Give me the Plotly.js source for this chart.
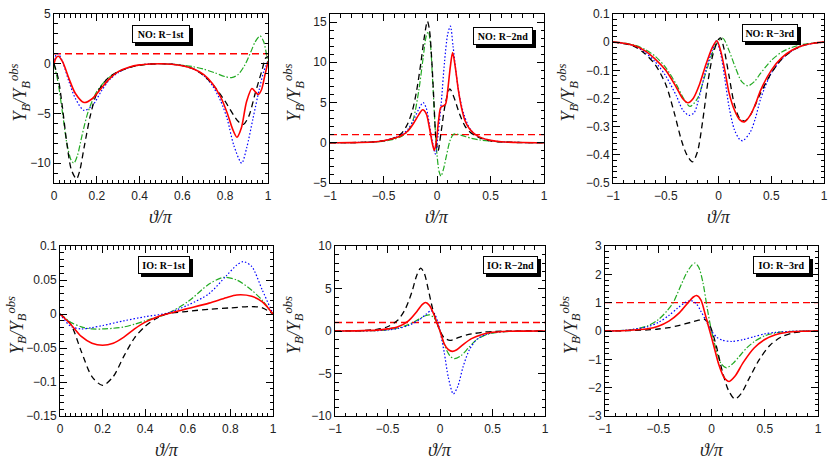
<!DOCTYPE html>
<html>
<head>
<meta charset="utf-8">
<script src="https://cdn.plot.ly/plotly-3.0.1.min.js"></script>
<style>html,body{margin:0;padding:0;background:#fff}#chart{width:830px;height:462px}</style>
</head>
<body>
<div id="chart"></div>
<script>
// ---------- Panel 1: NO R-1st ----------
const p1RedX = [0, 0.01, 0.02, 0.04, 0.07, 0.1, 0.14, 0.18, 0.22, 0.26, 0.3, 0.35, 0.4, 0.45, 0.5, 0.55, 0.6, 0.65, 0.7, 0.74, 0.78, 0.81, 0.835, 0.855, 0.875, 0.9, 0.925, 0.94, 0.955, 0.97, 0.985, 1];
const p1RedY = [0, 0.6, 0.75, 0.2, -1.5, -3.0, -3.9, -3.5, -2.5, -1.5, -0.8, -0.35, -0.12, -0.03, 0, -0.05, -0.2, -0.5, -1.1, -2.0, -3.4, -5.0, -6.6, -7.4, -6.5, -3.8, -2.5, -2.8, -3.1, -2.6, -1.2, 0.2];
const p1BlueX = [0, 0.01, 0.02, 0.04, 0.07, 0.1, 0.14, 0.18, 0.22, 0.26, 0.3, 0.35, 0.4, 0.45, 0.5, 0.55, 0.6, 0.65, 0.7, 0.74, 0.78, 0.81, 0.84, 0.877, 0.9, 0.93, 0.96, 0.98, 1];
const p1BlueY = [0, 0.9, 1.0, 0.2, -1.8, -3.5, -4.7, -4.2, -2.8, -1.6, -0.9, -0.4, -0.13, -0.03, 0, -0.05, -0.2, -0.5, -1.2, -2.2, -3.8, -5.6, -8.2, -10.0, -8.5, -5.5, -2.5, -0.8, 0.3];
const p1GreenX = [0, 0.02, 0.04, 0.06, 0.08, 0.093, 0.11, 0.13, 0.16, 0.2, 0.25, 0.3, 0.35, 0.4, 0.45, 0.5, 0.55, 0.6, 0.65, 0.7, 0.75, 0.8, 0.83, 0.86, 0.89, 0.92, 0.94, 0.963, 0.98, 1];
const p1GreenY = [0, -2.0, -5.0, -8.0, -9.7, -10.0, -9.2, -7.3, -4.8, -2.8, -1.5, -0.8, -0.4, -0.15, -0.03, 0, -0.05, -0.15, -0.3, -0.55, -0.9, -1.3, -1.4, -1.1, -0.2, 1.2, 2.2, 2.8, 2.2, 0];
const p1BlackX = [0, 0.02, 0.04, 0.06, 0.08, 0.1, 0.106, 0.12, 0.14, 0.17, 0.2, 0.25, 0.3, 0.35, 0.4, 0.45, 0.5, 0.55, 0.6, 0.65, 0.7, 0.75, 0.8, 0.84, 0.865, 0.885, 0.91, 0.94, 0.97, 0.99, 1];
const p1BlackY = [0, -1.5, -4.5, -8.0, -10.6, -11.5, -11.6, -10.8, -8.5, -5.2, -3.0, -1.5, -0.8, -0.4, -0.15, -0.03, 0, -0.05, -0.2, -0.5, -1.2, -2.3, -3.8, -5.2, -5.9, -6.1, -5.3, -3.0, -0.8, 0.6, 0.7];

// ---------- Panel 2: NO R-2nd ----------
const p2BlackX = [-1, -0.8, -0.6, -0.5, -0.4, -0.33, -0.28, -0.23, -0.19, -0.15, -0.12, -0.09, -0.07, -0.05, -0.03, -0.01, 0.01, 0.04, 0.08, 0.12, 0.16, 0.21, 0.26, 0.31, 0.4, 0.5, 0.6, 0.8, 1];
const p2BlackY = [0, 0.02, 0.1, 0.25, 0.6, 1.2, 2.2, 4.0, 6.5, 10.0, 13.0, 15.1, 14.0, 10.5, 5.5, 0.5, -1.0, 1.5, 5.0, 6.7, 5.6, 3.6, 2.1, 1.3, 0.6, 0.25, 0.1, 0.02, 0];
const p2RedX = [-1, -0.8, -0.6, -0.5, -0.4, -0.33, -0.27, -0.22, -0.17, -0.134, -0.1, -0.07, -0.045, -0.025, -0.005, 0.015, 0.035, 0.06, 0.08, 0.1, 0.125, 0.146, 0.17, 0.2, 0.23, 0.26, 0.3, 0.35, 0.4, 0.5, 0.6, 0.8, 1];
const p2RedY = [0, 0.02, 0.1, 0.25, 0.55, 0.9, 1.5, 2.4, 3.5, 4.1, 3.6, 1.8, 0.0, -0.95, 0.3, 2.8, 4.4, 4.6, 4.8, 6.5, 9.5, 11.2, 9.5, 6.5, 4.3, 2.8, 1.8, 1.1, 0.7, 0.3, 0.12, 0.03, 0];
const p2BlueX = [-1, -0.8, -0.6, -0.5, -0.4, -0.33, -0.27, -0.22, -0.17, -0.13, -0.1, -0.07, -0.045, -0.015, 0.01, 0.04, 0.07, 0.1, 0.125, 0.15, 0.18, 0.21, 0.25, 0.3, 0.35, 0.4, 0.5, 0.6, 0.8, 1];
const p2BlueY = [0, 0.02, 0.1, 0.25, 0.6, 1.0, 1.7, 2.8, 4.2, 5.0, 4.3, 2.2, 0.3, -1.4, 1.0, 5.0, 10.0, 13.5, 14.5, 12.0, 8.5, 5.8, 3.6, 1.9, 1.1, 0.7, 0.3, 0.12, 0.03, 0];
const p2GreenX = [-1, -0.8, -0.6, -0.5, -0.4, -0.33, -0.27, -0.22, -0.17, -0.13, -0.1, -0.08, -0.06, -0.04, -0.02, 0.0, 0.02, 0.037, 0.06, 0.09, 0.12, 0.15, 0.18, 0.22, 0.27, 0.32, 0.4, 0.5, 0.6, 0.8, 1];
const p2GreenY = [0, 0.02, 0.08, 0.2, 0.45, 0.8, 1.5, 3.0, 6.5, 10.5, 13.3, 13.8, 12.0, 7.5, 2.5, -1.5, -3.6, -4.15, -3.3, -1.5, 0.2, 1.0, 1.1, 0.95, 0.75, 0.55, 0.35, 0.2, 0.1, 0.03, 0];

// ---------- Panel 3: NO R-3rd ----------
const p3BlackX = [-1, -0.9, -0.8, -0.7, -0.6, -0.5, -0.42, -0.35, -0.3, -0.247, -0.2, -0.15, -0.1, -0.05, 0, 0.02, 0.05, 0.1, 0.15, 0.2, 0.25, 0.3, 0.4, 0.5, 0.6, 0.7, 0.8, 0.9, 1];
const p3BlackY = [0, -0.005, -0.015, -0.04, -0.08, -0.15, -0.25, -0.35, -0.40, -0.425, -0.39, -0.28, -0.14, -0.04, 0.01, 0.015, -0.02, -0.12, -0.22, -0.27, -0.28, -0.26, -0.18, -0.11, -0.06, -0.03, -0.012, -0.004, 0];
const p3RedX = [-1, -0.9, -0.8, -0.7, -0.6, -0.5, -0.4, -0.34, -0.29, -0.24, -0.18, -0.12, -0.06, -0.016, 0.02, 0.06, 0.1, 0.15, 0.2, 0.245, 0.3, 0.35, 0.4, 0.5, 0.6, 0.7, 0.8, 0.9, 1];
const p3RedY = [0, -0.004, -0.012, -0.03, -0.06, -0.1, -0.16, -0.2, -0.215, -0.2, -0.15, -0.08, -0.02, 0.005, -0.03, -0.1, -0.18, -0.24, -0.275, -0.283, -0.26, -0.22, -0.17, -0.1, -0.055, -0.028, -0.012, -0.004, 0];
const p3BlueX = [-1, -0.9, -0.8, -0.7, -0.6, -0.5, -0.4, -0.34, -0.28, -0.23, -0.18, -0.12, -0.06, -0.02, 0.02, 0.06, 0.1, 0.15, 0.2, 0.23, 0.3, 0.35, 0.4, 0.5, 0.6, 0.7, 0.8, 0.9, 1];
const p3BlueY = [0, -0.004, -0.013, -0.035, -0.07, -0.12, -0.19, -0.24, -0.26, -0.25, -0.19, -0.1, -0.03, 0.005, -0.04, -0.13, -0.23, -0.31, -0.345, -0.35, -0.32, -0.27, -0.2, -0.11, -0.06, -0.03, -0.012, -0.004, 0];
const p3GreenX = [-1, -0.9, -0.8, -0.7, -0.6, -0.5, -0.4, -0.33, -0.27, -0.2, -0.13, -0.07, -0.02, 0.04, 0.1, 0.16, 0.22, 0.28, 0.34, 0.4, 0.5, 0.6, 0.7, 0.8, 0.9, 1];
const p3GreenY = [0, -0.003, -0.01, -0.025, -0.05, -0.09, -0.15, -0.2, -0.228, -0.2, -0.12, -0.05, -0.005, 0.014, -0.03, -0.09, -0.14, -0.155, -0.14, -0.11, -0.065, -0.035, -0.018, -0.008, -0.003, 0];

// ---------- Panel 4: IO R-1st ----------
const p4BlackX = [0, 0.05, 0.1, 0.15, 0.2, 0.25, 0.3, 0.35, 0.4, 0.45, 0.5, 0.6, 0.7, 0.8, 0.9, 0.95, 1];
const p4BlackY = [0, -0.015, -0.055, -0.092, -0.105, -0.092, -0.062, -0.035, -0.018, -0.007, 0, 0.004, 0.007, 0.009, 0.011, 0.009, 0];
const p4RedX = [0, 0.05, 0.1, 0.15, 0.2, 0.25, 0.3, 0.35, 0.4, 0.45, 0.5, 0.6, 0.7, 0.78, 0.83, 0.9, 0.95, 1];
const p4RedY = [0, -0.015, -0.033, -0.043, -0.046, -0.043, -0.034, -0.022, -0.012, -0.005, 0, 0.008, 0.016, 0.024, 0.028, 0.026, 0.018, 0];
const p4BlueX = [0, 0.05, 0.1, 0.15, 0.2, 0.3, 0.4, 0.5, 0.6, 0.7, 0.78, 0.83, 0.86, 0.9, 0.95, 1];
const p4BlueY = [0, -0.018, -0.022, -0.02, -0.017, -0.01, -0.004, 0.001, 0.013, 0.03, 0.056, 0.072, 0.077, 0.07, 0.035, 0];
const p4GreenX = [0, 0.05, 0.1, 0.15, 0.2, 0.25, 0.3, 0.35, 0.4, 0.45, 0.5, 0.6, 0.7, 0.77, 0.83, 0.9, 0.95, 1];
const p4GreenY = [0, -0.012, -0.019, -0.022, -0.022, -0.021, -0.019, -0.015, -0.01, -0.005, 0, 0.018, 0.044, 0.054, 0.05, 0.035, 0.02, 0];

// ---------- Panel 5: IO R-2nd ----------
const p5BlackX = [-1, -0.8, -0.6, -0.5, -0.4, -0.33, -0.27, -0.22, -0.184, -0.15, -0.11, -0.07, -0.03, 0, 0.04, 0.095, 0.15, 0.2, 0.3, 0.4, 0.5, 0.7, 1];
const p5BlackY = [0, 0.03, 0.2, 0.5, 1.3, 2.6, 4.5, 6.6, 7.4, 6.8, 4.8, 2.6, 1.0, 0.0, -0.8, -1.1, -0.9, -0.65, -0.35, -0.15, -0.06, -0.01, 0];
const p5RedX = [-1, -0.8, -0.6, -0.5, -0.4, -0.3, -0.22, -0.17, -0.137, -0.1, -0.06, -0.03, 0, 0.04, 0.08, 0.117, 0.16, 0.22, 0.3, 0.4, 0.5, 0.6, 0.8, 1];
const p5RedY = [0, 0.02, 0.1, 0.25, 0.5, 1.2, 2.3, 3.1, 3.35, 3.0, 2.0, 1.0, 0.0, -1.5, -2.2, -2.4, -2.2, -1.6, -0.9, -0.4, -0.15, -0.05, -0.01, 0];
const p5GreenX = [-1, -0.8, -0.6, -0.5, -0.4, -0.3, -0.2, -0.14, -0.1, -0.06, -0.03, 0, 0.05, 0.1, 0.14, 0.2, 0.27, 0.35, 0.45, 0.55, 0.7, 1];
const p5GreenY = [0, 0.01, 0.05, 0.15, 0.35, 0.75, 1.4, 1.8, 1.9, 1.6, 1.0, 0.0, -1.9, -3.0, -3.25, -2.9, -2.0, -1.0, -0.4, -0.15, -0.03, 0];
const p5BlueX = [-1, -0.8, -0.6, -0.5, -0.4, -0.3, -0.2, -0.13, -0.086, -0.05, -0.02, 0, 0.04, 0.08, 0.127, 0.17, 0.22, 0.28, 0.35, 0.45, 0.55, 0.7, 1];
const p5BlueY = [0, 0.01, 0.05, 0.12, 0.3, 0.65, 1.3, 2.0, 2.4, 2.0, 1.0, 0.0, -2.5, -5.5, -7.4, -6.5, -4.2, -2.2, -1.0, -0.35, -0.12, -0.03, 0];

// ---------- Panel 6: IO R-3rd ----------
const p6GreenX = [-1, -0.8, -0.7, -0.6, -0.5, -0.42, -0.36, -0.3, -0.24, -0.19, -0.156, -0.12, -0.08, -0.04, 0, 0.04, 0.09, 0.14, 0.2, 0.26, 0.33, 0.4, 0.5, 0.6, 0.7, 0.85, 1];
const p6GreenY = [0, 0.03, 0.08, 0.18, 0.4, 0.7, 1.0, 1.5, 2.0, 2.3, 2.4, 2.25, 1.7, 0.8, 0.0, -0.6, -1.15, -1.3, -1.15, -0.9, -0.6, -0.38, -0.17, -0.07, -0.025, -0.005, 0];
const p6RedX = [-1, -0.8, -0.6, -0.5, -0.4, -0.3, -0.22, -0.17, -0.14, -0.1, -0.06, -0.02, 0.02, 0.07, 0.12, 0.166, 0.22, 0.3, 0.4, 0.5, 0.6, 0.7, 0.85, 1];
const p6RedY = [0, 0.02, 0.08, 0.17, 0.35, 0.65, 1.0, 1.2, 1.25, 1.1, 0.6, 0.05, -0.5, -1.2, -1.65, -1.78, -1.6, -1.1, -0.6, -0.3, -0.13, -0.05, -0.01, 0];
const p6BlueX = [-1, -0.8, -0.6, -0.5, -0.4, -0.32, -0.25, -0.19, -0.14, -0.1, -0.05, 0, 0.05, 0.1, 0.19, 0.3, 0.4, 0.5, 0.6, 0.75, 1];
const p6BlueY = [0, 0.03, 0.15, 0.3, 0.55, 0.8, 1.0, 1.07, 0.95, 0.7, 0.35, 0.0, -0.22, -0.32, -0.37, -0.3, -0.2, -0.1, -0.05, -0.01, 0];
const p6BlackX = [-1, -0.8, -0.6, -0.5, -0.4, -0.3, -0.2, -0.12, -0.07, -0.03, 0, 0.05, 0.1, 0.16, 0.22, 0.28, 0.35, 0.45, 0.55, 0.65, 0.75, 0.85, 1];
const p6BlackY = [0, 0.01, 0.04, 0.07, 0.12, 0.2, 0.3, 0.38, 0.42, 0.3, 0.05, -0.6, -1.4, -2.1, -2.4, -2.2, -1.7, -1.0, -0.5, -0.22, -0.08, -0.02, 0];

// Observed ratio reference level and panel labels
const refLevel = 1;
const panelLabels = ["NO: R\u22121st", "NO: R\u22122nd", "NO: R\u22123rd", "IO: R\u22121st", "IO: R\u22122nd", "IO: R\u22123rd"];
const xRanges = [[0, 1], [-1, 1], [-1, 1], [0, 1], [-1, 1], [-1, 1]];
const yRanges = [[-12, 5], [-5, 16], [-0.5, 0.1], [-0.15, 0.1], [-10, 10], [-3, 3]];
const yTicks = [5, 5, 0.1, 0.05, 5, 1];
const yMinor = [1, 1, 0.02, 0.01, 1, 0.2];
const showRef = [true, true, false, false, true, true];

const W = 830, H = 462;
// plot frames in pixels [left, right, top, bottom]
const frames = [[54, 268, 14, 183], [330, 544, 14, 183], [613, 824, 14, 183],
                [60, 273, 246, 416], [335, 545, 246, 416], [605, 818, 246, 416]];
// label boxes in pixels [left, right, top, bottom]
const labelBox = [[132, 190, 25, 43], [473, 533, 27, 45], [742, 798, 24, 42],
                  [138, 190, 256, 274], [483, 538, 256, 274], [753, 810, 256, 274]];
const yTitleX = [20, 294, 568, 16, 293, 570];

const panels = [
  {red: [p1RedX, p1RedY], blue: [p1BlueX, p1BlueY], green: [p1GreenX, p1GreenY], black: [p1BlackX, p1BlackY]},
  {red: [p2RedX, p2RedY], blue: [p2BlueX, p2BlueY], green: [p2GreenX, p2GreenY], black: [p2BlackX, p2BlackY]},
  {red: [p3RedX, p3RedY], blue: [p3BlueX, p3BlueY], green: [p3GreenX, p3GreenY], black: [p3BlackX, p3BlackY]},
  {red: [p4RedX, p4RedY], blue: [p4BlueX, p4BlueY], green: [p4GreenX, p4GreenY], black: [p4BlackX, p4BlackY]},
  {red: [p5RedX, p5RedY], blue: [p5BlueX, p5BlueY], green: [p5GreenX, p5GreenY], black: [p5BlackX, p5BlackY]},
  {red: [p6RedX, p6RedY], blue: [p6BlueX, p6BlueY], green: [p6GreenX, p6GreenY], black: [p6BlackX, p6BlackY]}
];

const styles = {
  green: {color: '#22aa22', width: 1.2, dash: '6px,2px,1.5px,2px'},
  blue: {color: '#0000ff', width: 1.2, dash: '1.5px,2px'},
  black: {color: '#000000', width: 1.3, dash: '6px,4px'},
  red: {color: '#ff0000', width: 1.6, dash: 'solid'}
};

const traces = [];
const layout = {
  width: W, height: H,
  margin: {l: 0, r: 0, t: 0, b: 0},
  paper_bgcolor: '#ffffff', plot_bgcolor: '#ffffff',
  showlegend: false,
  font: {family: 'Liberation Sans, Arial, sans-serif', size: 11, color: '#222'},
  annotations: [], shapes: []
};

panels.forEach((p, i) => {
  const n = i + 1;
  const xa = 'x' + (n === 1 ? '' : n), ya = 'y' + (n === 1 ? '' : n);
  const f = frames[i];
  if (showRef[i]) {
    traces.push({x: xRanges[i], y: [refLevel, refLevel], xaxis: xa, yaxis: ya, mode: 'lines',
      line: {color: '#ff0000', width: 1.3, dash: '7px,4px'}, hoverinfo: 'skip'});
  }
  ['green', 'blue', 'black', 'red'].forEach(k => {
    traces.push({x: p[k][0], y: p[k][1], xaxis: xa, yaxis: ya, mode: 'lines',
      line: Object.assign({shape: 'spline', smoothing: 0.8}, styles[k]), hoverinfo: 'skip'});
  });
  const xdt = (xRanges[i][1] - xRanges[i][0] > 1.5) ? 0.5 : 0.2;
  const xmin = (xdt === 0.5) ? 0.1 : 0.025;
  layout['xaxis' + (n === 1 ? '' : n)] = {
    domain: [f[0] / W, f[1] / W], anchor: ya, range: xRanges[i],
    showline: true, linecolor: '#000', linewidth: 1, mirror: 'ticks',
    ticks: 'inside', ticklen: 7, tickwidth: 1, tickcolor: '#000', dtick: xdt, tick0: 0,
    minor: {ticks: 'inside', ticklen: 3.5, dtick: xmin, tickcolor: '#000'},
    showgrid: false, zeroline: false, tickfont: {size: 12, color: '#222'}, ticklabelstandoff: 2
  };
  layout['yaxis' + (n === 1 ? '' : n)] = {
    domain: [1 - f[3] / H, 1 - f[2] / H], anchor: xa, range: yRanges[i],
    showline: true, linecolor: '#000', linewidth: 1, mirror: 'ticks',
    ticks: 'inside', ticklen: 7, tickwidth: 1, tickcolor: '#000', dtick: yTicks[i], tick0: 0,
    minor: {ticks: 'inside', ticklen: 3.5, dtick: yMinor[i], tickcolor: '#000'},
    showgrid: false, zeroline: false, tickfont: {size: 12, color: '#222'}
  };
  // axis titles
  layout.annotations.push({
    xref: 'paper', yref: 'paper', x: yTitleX[i] / W, y: 1 - ((f[2] + f[3]) / 2 - 6) / H,
    text: '<i>Y<sub>B</sub>/Y<sub>B</sub><sup>obs</sup></i>', textangle: -90, showarrow: false,
    font: {family: 'Liberation Serif, Times New Roman, serif', size: 18, color: '#222'},
    xanchor: 'center', yanchor: 'middle'
  });
  layout.annotations.push({
    xref: 'paper', yref: 'paper', x: (f[0] + f[1]) / 2 / W, y: 1 - (f[3] + 34) / H,
    text: '<i>\u03d1/\u03c0</i>', showarrow: false,
    font: {family: 'Liberation Serif, Times New Roman, serif', size: 18, color: '#222'},
    xanchor: 'center', yanchor: 'middle'
  });
  // label box: black shadow shape + white box annotation
  const b = labelBox[i];
  layout.shapes.push({type: 'rect', xref: 'paper', yref: 'paper', layer: 'above',
    x0: (b[0] + 3) / W, x1: (b[1] + 3) / W, y0: 1 - (b[3] + 3) / H, y1: 1 - (b[2] + 3) / H,
    fillcolor: '#000', line: {width: 0}});
  layout.annotations.push({
    xref: 'paper', yref: 'paper', x: (b[0] + b[1]) / 2 / W, y: 1 - (b[2] + b[3]) / 2 / H,
    showarrow: false, text: '<b>' + panelLabels[i] + '</b>', xanchor: 'center', yanchor: 'middle',
    width: b[1] - b[0] - 4, height: b[3] - b[2] - 4, borderpad: 1, borderwidth: 1,
    bgcolor: '#fff', bordercolor: '#000', align: 'center', valign: 'middle',
    font: {family: 'Liberation Serif, Times New Roman, serif', size: 10, color: '#000'}
  });
});

Plotly.newPlot('chart', traces, layout, {staticPlot: true, displayModeBar: false});
</script>
</body>
</html>
